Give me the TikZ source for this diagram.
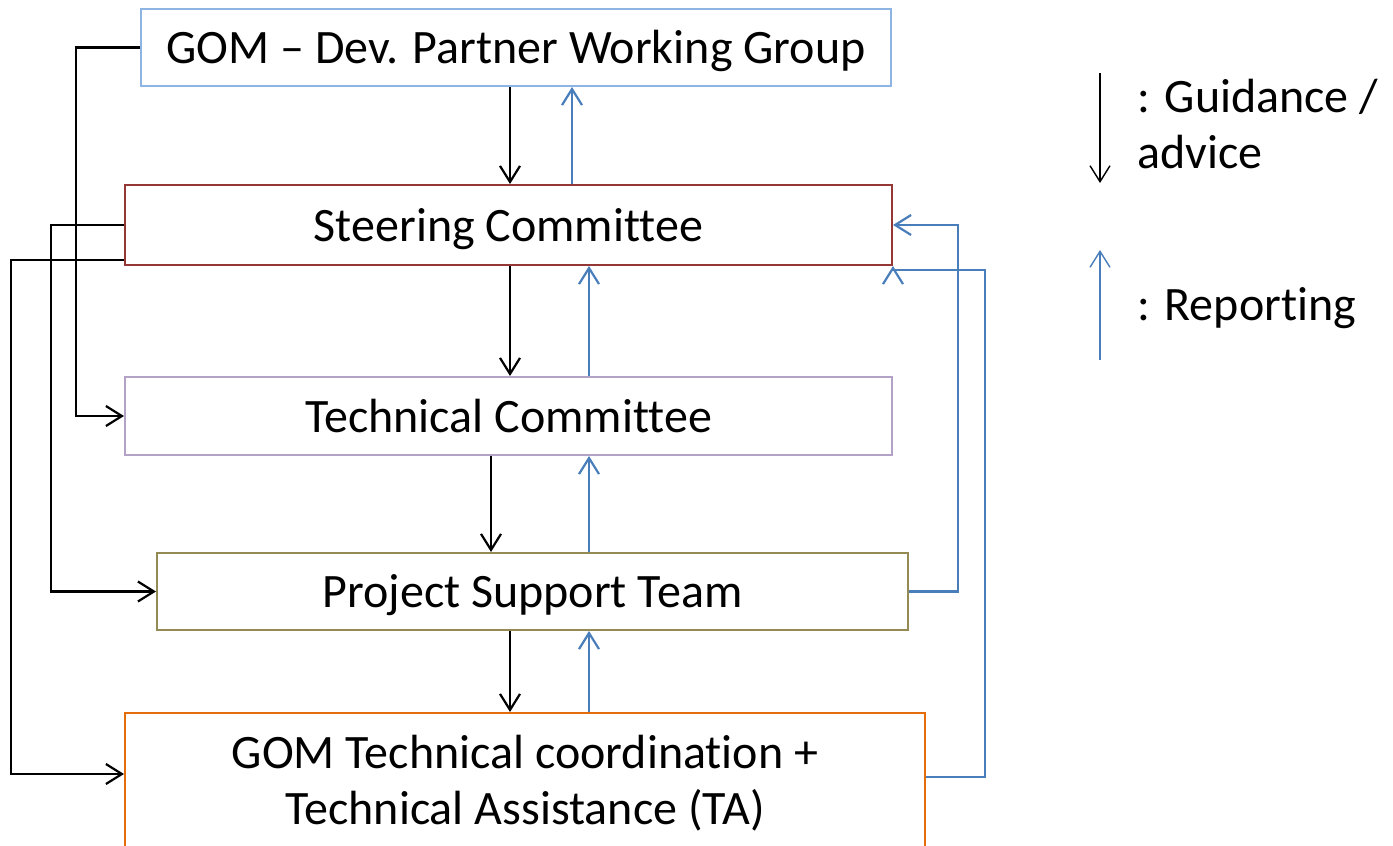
\documentclass[tikz,border=0pt]{standalone}
\usepackage{fontspec}
\setmainfont{Carlito}[Ligatures={TeX,NoCommon}]
\usetikzlibrary{arrows.meta,calc}

\definecolor{gomblue}{HTML}{8EB4E3}
\definecolor{steerred}{HTML}{953735}
\definecolor{techlilac}{HTML}{B3A2C7}
\definecolor{pstolive}{HTML}{948A54}
\definecolor{gtcorange}{HTML}{E46C0A}
\definecolor{repblue}{HTML}{4A7EBB}

\begin{document}
\begin{tikzpicture}[x=0.5pt, y=-0.5pt, >={Straight Barb[length=8pt,width=10pt]},
  box/.style={draw, line width=1pt, inner sep=0pt, font=\fontsize{24}{28}\selectfont},
  onebox/.style={box, text height=18pt, text depth=2pt},
  guide/.style={->, line width=1.1pt, black},
  report/.style={->, line width=1.1pt, repblue}]
\useasboundingbox (0,0) rectangle (1393,846);

% Boxes
\node[onebox, draw=gomblue, minimum width=375pt, minimum height=38.5pt] (gom) at (516,47.5) {GOM – Dev. Partner Working Group};
\node[onebox, draw=steerred, minimum width=383.5pt, minimum height=40pt] (steer) at (508.5,225) {Steering Committee};
\node[onebox, draw=techlilac, minimum width=383.5pt, minimum height=39pt] (tech) at (508.5,416) {Technical Committee};
\node[onebox, draw=pstolive, minimum width=375.5pt, minimum height=38.5pt] (pst) at (532.5,591.5) {Project Support Team};
\node[box, draw=gtcorange, minimum width=400pt, minimum height=70pt, align=center] (gtc) at (525,783) {GOM Technical coordination +\\Technical Assistance (TA)};

% Guidance down the chain
\draw[guide] (510,0 |- gom.south) -- (510,0 |- steer.north);
\draw[guide] (510,0 |- steer.south) -- (510,0 |- tech.north);
\draw[guide] (491,0 |- tech.south) -- (491,0 |- pst.north);
\draw[guide] (510,0 |- pst.south) -- (510,0 |- gtc.north);

% Reporting up the chain
\draw[report] (572,0 |- steer.north) -- (572,0 |- gom.south);
\draw[report] (589,0 |- tech.north) -- (589,0 |- steer.south);
\draw[report] (589,0 |- pst.north) -- (589,0 |- tech.south);
\draw[report] (589,0 |- gtc.north) -- (589,0 |- pst.south);

% Guidance on the left side
\draw[guide] (gom.west) -- ++(-64,0) |- (tech.west);
\draw[guide] (steer.west) -- ++(-73,0) |- (pst.west);
\draw[guide] ($(steer.south west)+(0,-6)$) -- ++(-113,0) |- ($(gtc.north west)+(0,62)$);

% Reporting on the right side
\draw[report] (pst.east) -- ++(49,0) |- (steer.east);
\draw[report] ($(gtc.north east)+(0,65)$) -- ++(59,0) |- ($(steer.south east)+(0,4)$) -- (steer.south east);

% Legend
\draw[->, line width=0.7pt, black] (1100,73) -- (1100,183);
\draw[->, line width=0.7pt, repblue] (1100,360) -- (1100,250);
\node[font=\fontsize{24}{28}\selectfont, align=left, anchor=north west, inner sep=0pt] (lguide) at (1137,79) {: Guidance /\\advice};
\node[font=\fontsize{24}{28}\selectfont, anchor=west, inner sep=0pt] (lreport) at (1137,308) {: Reporting};
\end{tikzpicture}
\end{document}
